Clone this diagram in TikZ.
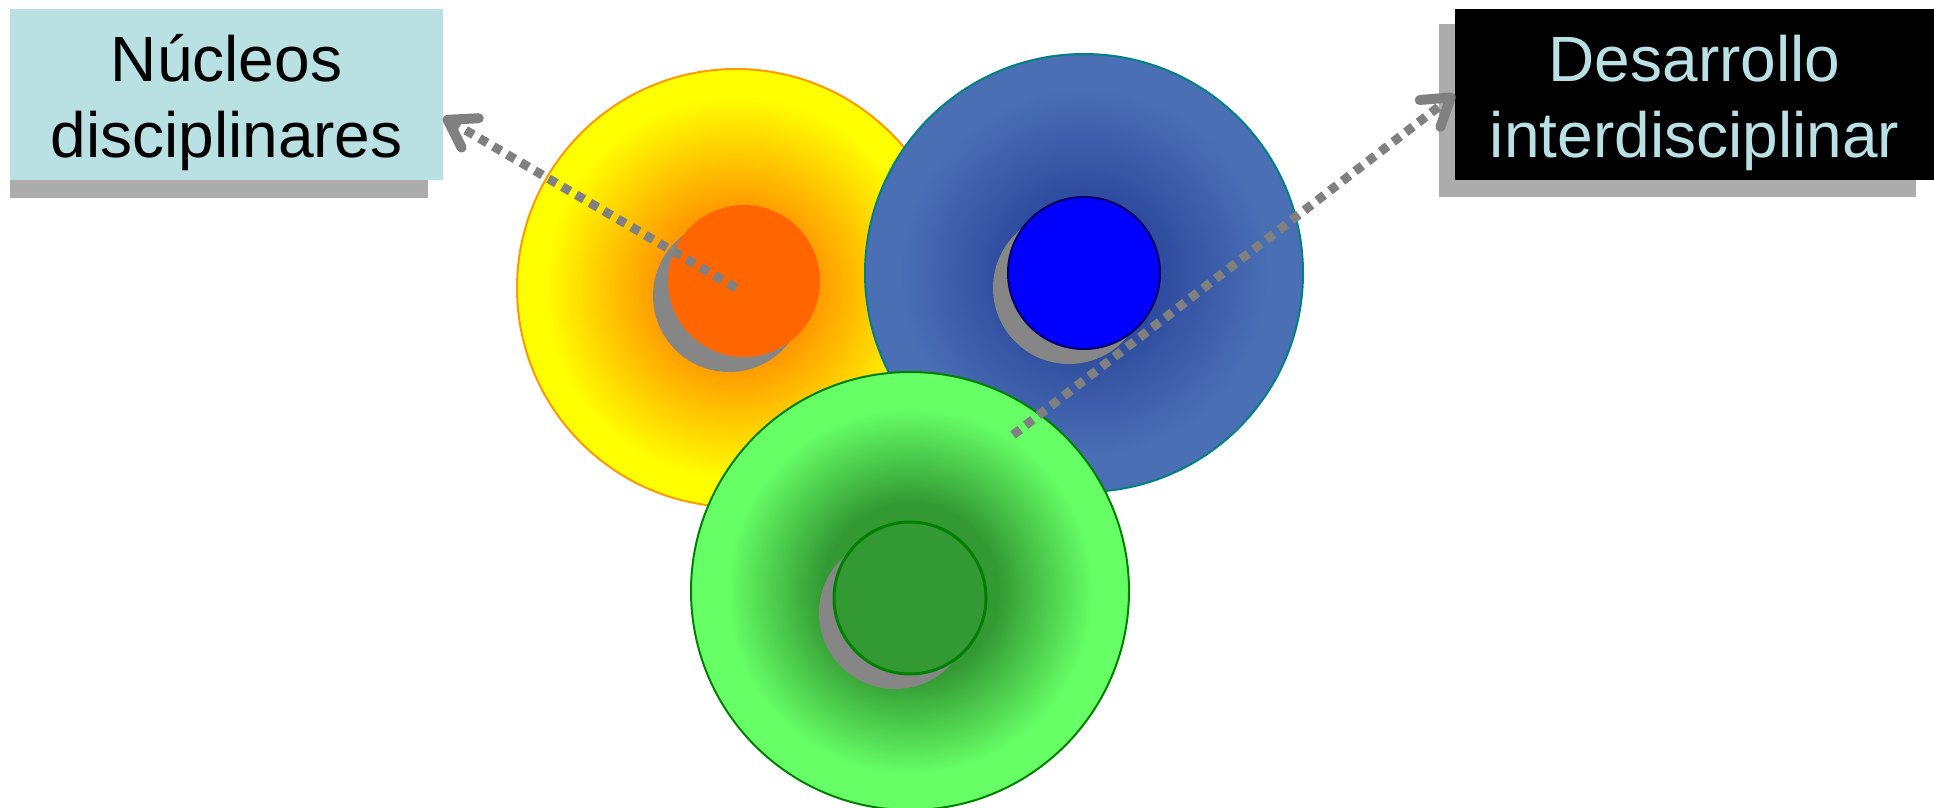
\documentclass[tikz,border=0pt]{standalone}
\usepackage{fontspec}
\setmainfont{Liberation Sans}
\usetikzlibrary{arrows.meta,shadows}

\definecolor{celeste}{HTML}{B9E0E3}
\definecolor{naranja}{HTML}{FF6600}
\definecolor{ambar}{HTML}{FF9900}
\definecolor{azulborde}{HTML}{4A6FB5}
\definecolor{azulcentro}{HTML}{2F4C9E}
\definecolor{azuloscuro}{HTML}{000066}
\definecolor{verdeborde}{HTML}{66FF66}
\definecolor{verdecentro}{HTML}{339933}
\definecolor{verdeoscuro}{HTML}{008000}

\pgfdeclareradialshading{solamarillo}{\pgfpoint{0bp}{0bp}}{color(0bp)=(ambar); color(9bp)=(ambar); color(22bp)=(yellow); color(50bp)=(yellow)}
\pgfdeclareradialshading{solazul}{\pgfpoint{0bp}{0bp}}{color(0bp)=(azulcentro); color(9bp)=(azulcentro); color(21bp)=(azulborde); color(50bp)=(azulborde)}
\pgfdeclareradialshading{solverde}{\pgfpoint{0bp}{0bp}}{color(0bp)=(verdecentro); color(10bp)=(verdecentro); color(21bp)=(verdeborde); color(50bp)=(verdeborde)}

\begin{document}
\begin{tikzpicture}[x=0.5pt,y=-0.5pt,
    anillo/.style={circle,inner sep=0pt,minimum size=219pt,line width=1pt},
    nucleo/.style={circle,inner sep=0pt,minimum size=76pt,
        drop shadow={shadow xshift=-7.5pt,shadow yshift=-7.5pt,fill=gray!95,opacity=1}},
    caja/.style={rectangle,inner sep=0pt,minimum height=85.5pt,align=center,
        font=\fontsize{32}{38}\selectfont},
    sombra/.style={fill=gray!65},
    flecha/.style={gray,line width=4.5pt,dash pattern=on 4.5pt off 3.5pt,
        -{Straight Barb[length=13pt,width=17pt,line width=5pt,round]}}]
    \useasboundingbox (0,0) rectangle (1934,808);
    \node[anillo,shading=solamarillo,draw=ambar] (amarillo) at (736,288) {};
    \node[nucleo,fill=naranja] (nucleonaranja) at (744,281) {};
    \node[anillo,shading=solazul,draw=teal] (azul) at (1084,273) {};
    \node[nucleo,fill=blue,draw=azuloscuro,line width=1pt] (nucleoazul) at (1084,273) {};
    \node[anillo,shading=solverde,draw=verdeoscuro] (verde) at (910,591) {};
    \node[nucleo,fill=verdecentro,draw=verdeoscuro,line width=1.5pt] (nucleoverde) at (910,598) {};
    \fill[sombra] (10,26) rectangle (428,198);
    \fill[sombra] (1439,24) rectangle (1916,197);
    \node[caja,fill=celeste,minimum width=216.5pt] (nucleos) at (226.5,94.5) {\rule{0pt}{31.4pt}Núcleos\\disciplinares};
    \node[caja,fill=black,text=celeste,minimum width=239.5pt] (desarrollo) at (1694.5,94.5) {\rule{0pt}{31.4pt}Desarrollo\\interdisciplinar};
    \coordinate (origen) at (1013,435);
    \draw[flecha] (amarillo.center) -- (nucleos.-6);
    \draw[flecha] (origen) -- (desarrollo.west);
\end{tikzpicture}
\end{document}
